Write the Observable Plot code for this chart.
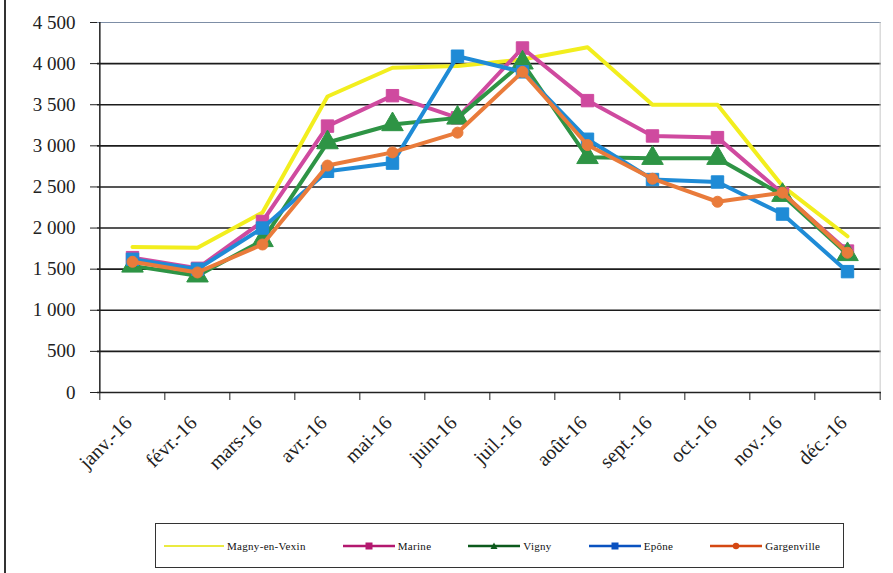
<!DOCTYPE html>
<html>
<head>
<meta charset="utf-8">
<script src="https://cdn.jsdelivr.net/npm/d3@7"></script>
<script src="https://cdn.jsdelivr.net/npm/@observablehq/plot@0.6"></script>
<style>
  html, body { margin: 0; padding: 0; background: #fff; }
  #wrap { position: relative; width: 893px; height: 573px; overflow: hidden; }
  #frame { position: absolute; left: 4px; top: 0; width: 2px; height: 573px; background: #333; }
  #legend { position: absolute; left: 155px; top: 523px; width: 689px; height: 45px;
            border: 1.5px solid #333; box-sizing: border-box; display: flex; align-items: center;
            padding-left: 8px; gap: 37px; }
  .item { display: flex; align-items: center; gap: 3px; }
  .item span { font-family: "Liberation Serif", "DejaVu Serif", serif; font-size: 11px; color: #111; letter-spacing: 0.3px; }
</style>
</head>
<body>
<div id="wrap">
  <div id="frame"></div>
  <div id="chart"></div>
  <div id="legend"></div>
</div>
<script>
const months = ["janv.-16","févr.-16","mars-16","avr.-16","mai-16","juin-16","juil.-16","août-16","sept.-16","oct.-16","nov.-16","déc.-16"];
const seriesNames = ["Magny-en-Vexin","Marine","Vigny","Epône","Gargenville"];
const magny  = [1770, 1760, 2190, 3600, 3950, 3970, 4050, 4200, 3500, 3500, 2510, 1900];
const marine = [1640, 1510, 2080, 3240, 3610, 3340, 4190, 3550, 3120, 3100, 2420, 1720];
const vigny  = [1540, 1420, 1850, 3040, 3260, 3340, 4010, 2860, 2850, 2850, 2400, 1680];
const epone  = [1620, 1500, 2000, 2690, 2790, 4090, 3900, 3080, 2590, 2560, 2170, 1470];
const garg   = [1590, 1460, 1800, 2760, 2920, 3160, 3900, 3010, 2600, 2320, 2430, 1700];
const yTicks = [0, 500, 1000, 1500, 2000, 2500, 3000, 3500, 4000, 4500];

const colors = ["#f2ee1e", "#cf4a9f", "#2e9445", "#1f8bd6", "#e97b3b"];
const legendColors = ["#eaea40", "#b3186f", "#0c5a1c", "#0a52c0", "#d44812"];
const symbols = [null, "square", "triangle", "square", "circle"];
const radii = [0, 7, 8, 7, 5.5];

const allValues = [magny, marine, vigny, epone, garg];
const rows = [];
allValues.forEach((vals, s) => vals.forEach((v, i) => rows.push({series: seriesNames[s], s, month: months[i], value: v})));

const W = 893, H = 515, mL = 97, mR = 12, mT = 22, mB = 123;
const step = (W - mL - mR) / months.length;
const fr = d3.formatLocale({decimal: ",", thousands: " ", grouping: [3], currency: ["", ""]});
const fmt = fr.format(",d");

const marks = [
  Plot.ruleY(yTicks.slice(1, -1), {stroke: "#1c1c1c", strokeWidth: 1.6}),
  Plot.ruleY([4500], {stroke: "#7d8ea6", strokeWidth: 1.2}),
  Plot.ruleX([months[11]], {dx: step / 2, stroke: "#c8c8c8", strokeWidth: 1}),
  Plot.ruleX([months[0]], {dx: -step / 2, stroke: "#222", strokeWidth: 1.5}),
  Plot.ruleY([0], {stroke: "#222", strokeWidth: 1.5}),
  Plot.axisY({ticks: yTicks, tickSize: 7, tickPadding: 15, tickFormat: fmt, label: null,
              fontSize: 19, style: {letterSpacing: "1.4px"}}),
  Plot.axisX({tickSize: 0, tickRotate: -45, tickPadding: 27, dx: -4, label: null, fontSize: 20,
              style: {letterSpacing: "2px"}}),
  Plot.axisX({tickSize: 8, tickFormat: () => "", dx: -step / 2, label: null}),
  Plot.axisX({ticks: [months[11]], tickSize: 8, tickFormat: () => "", dx: step / 2, label: null})
];
seriesNames.forEach((name, s) => {
  const data = rows.filter(d => d.s === s);
  marks.push(Plot.line(data, {x: "month", y: "value", stroke: colors[s], strokeWidth: 4, strokeLinejoin: "round"}));
  if (symbols[s]) marks.push(Plot.dot(data, {x: "month", y: "value", symbol: symbols[s], r: radii[s], fill: colors[s], stroke: colors[s], strokeWidth: 1}));
});

const chart = Plot.plot({
  width: W, height: H, marginLeft: mL, marginRight: mR, marginTop: mT, marginBottom: mB,
  style: {fontFamily: "Liberation Serif, serif", fontSize: "19px", background: "transparent", color: "#222"},
  x: {type: "point", domain: months, padding: 0.5, label: null},
  y: {domain: [0, 4500], label: null},
  marks
});
document.getElementById("chart").appendChild(chart);

const legend = document.getElementById("legend");
seriesNames.forEach((name, s) => {
  const item = document.createElement("div");
  item.className = "item";
  const lw = s === 0 ? 60 : 52;
  let marker = "";
  const c = legendColors[s];
  const cx = lw / 2;
  if (symbols[s] === "square") marker = `<rect x="${cx-3.5}" y="3.5" width="7" height="7" fill="${c}"/>`;
  else if (symbols[s] === "triangle") marker = `<path d="M${cx},3.5 L${cx+3.5},10 L${cx-3.5},10Z" fill="${c}"/>`;
  else if (symbols[s] === "circle") marker = `<circle cx="${cx}" cy="7" r="3.2" fill="${c}"/>`;
  item.innerHTML = `<svg width="${lw}" height="14"><line x1="0" x2="${lw}" y1="7" y2="7" stroke="${c}" stroke-width="${s===0?2:2.5}"/>${marker}</svg><span>${name}</span>`;
  legend.appendChild(item);
});
</script>
</body>
</html>
